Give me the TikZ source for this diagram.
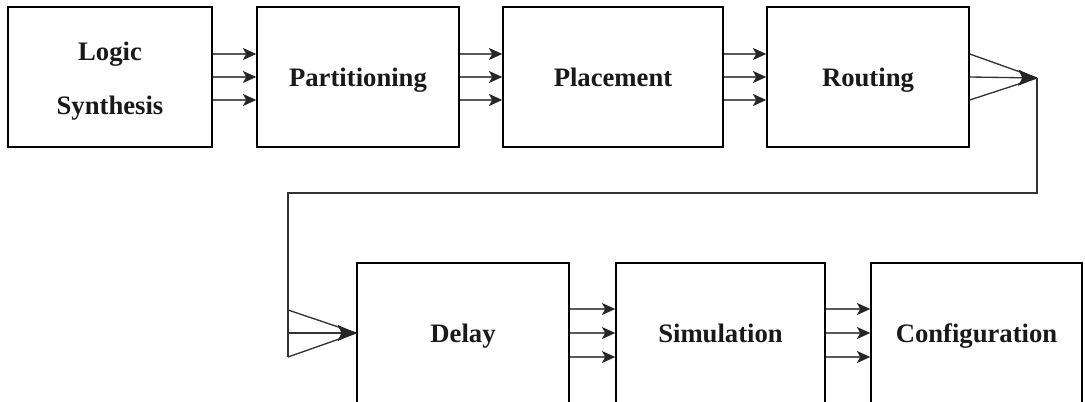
\documentclass[tikz,border=0pt]{standalone}
\usepackage{fontspec}
\setmainfont{Liberation Serif}
\usetikzlibrary{arrows.meta}
\begin{document}
\begin{tikzpicture}[x=0.75pt,y=-0.75pt,
  stage/.style={draw=black, line width=1.1pt, minimum height=105pt, inner sep=0pt,
    font=\fontsize{20}{40}\selectfont\bfseries, align=center, text=black!90},
  oneline/.style={text height=14pt, text depth=0pt},
  flow/.style={draw=black!65, line width=0.8pt, -{Stealth[length=10pt,width=9pt,inset=2.5pt,color=black!85]}},
  fan/.style={draw=black!80, line width=1pt},
  fanhead/.style={fan, -{Stealth[length=14pt,width=12pt,inset=3pt,color=black!85]}}]
\useasboundingbox (0,0) rectangle (1085,402);
\clip (0,0) rectangle (1085,402);

% upper row of design stages
\node[stage, minimum width=153pt]           (syn)   at (110,77)   {\rule{0pt}{20pt}Logic\\Synthesis};
\node[stage, oneline, minimum width=151.5pt] (part)  at (358,77)   {Partitioning};
\node[stage, oneline, minimum width=165pt]   (place) at (613,77)   {Placement};
\node[stage, oneline, minimum width=151.5pt] (route) at (868,77)   {Routing};

% lower row of design stages
\node[stage, oneline, minimum width=159pt]    (delay) at (463,333)   {Delay};
\node[stage, oneline, minimum width=156.75pt] (sim)   at (720.5,333) {Simulation};
\node[stage, oneline, minimum width=158.25pt] (conf)  at (976.5,333) {Configuration};

% triple links between neighbouring stages
\foreach \a/\b in {syn/part, part/place, place/route}
  \foreach \d in {17.25,0,-17.25}
    \draw[flow] ([yshift=\d pt]\a.east) -- ([yshift=\d pt]\b.west);
\foreach \a/\b in {delay/sim, sim/conf}
  \foreach \d in {18,0,-18}
    \draw[flow] ([yshift=\d pt]\a.east) -- ([yshift=\d pt]\b.west);

% merge after routing and return path to the lower row
\coordinate (rt) at (1037,78);
\coordinate (c1) at (1037,193);
\coordinate (c2) at (288,193);
\coordinate (c3) at (288,357);
\coordinate (c4) at (288,333);
\coordinate (c5) at (288,310);
\draw[fan] ([yshift=17.25pt]route.east) -- (rt);
\draw[fan] ([yshift=-17.25pt]route.east) -- (rt);
\draw[fanhead] (route.east) -- (rt);
\draw[fan] (rt) -- (c1) -- (c2) -- (c3);
\draw[fan] (c5) -- (delay.west);
\draw[fan] (c3) -- (delay.west);
\draw[fanhead] (c4) -- (delay.west);
\end{tikzpicture}
\end{document}
